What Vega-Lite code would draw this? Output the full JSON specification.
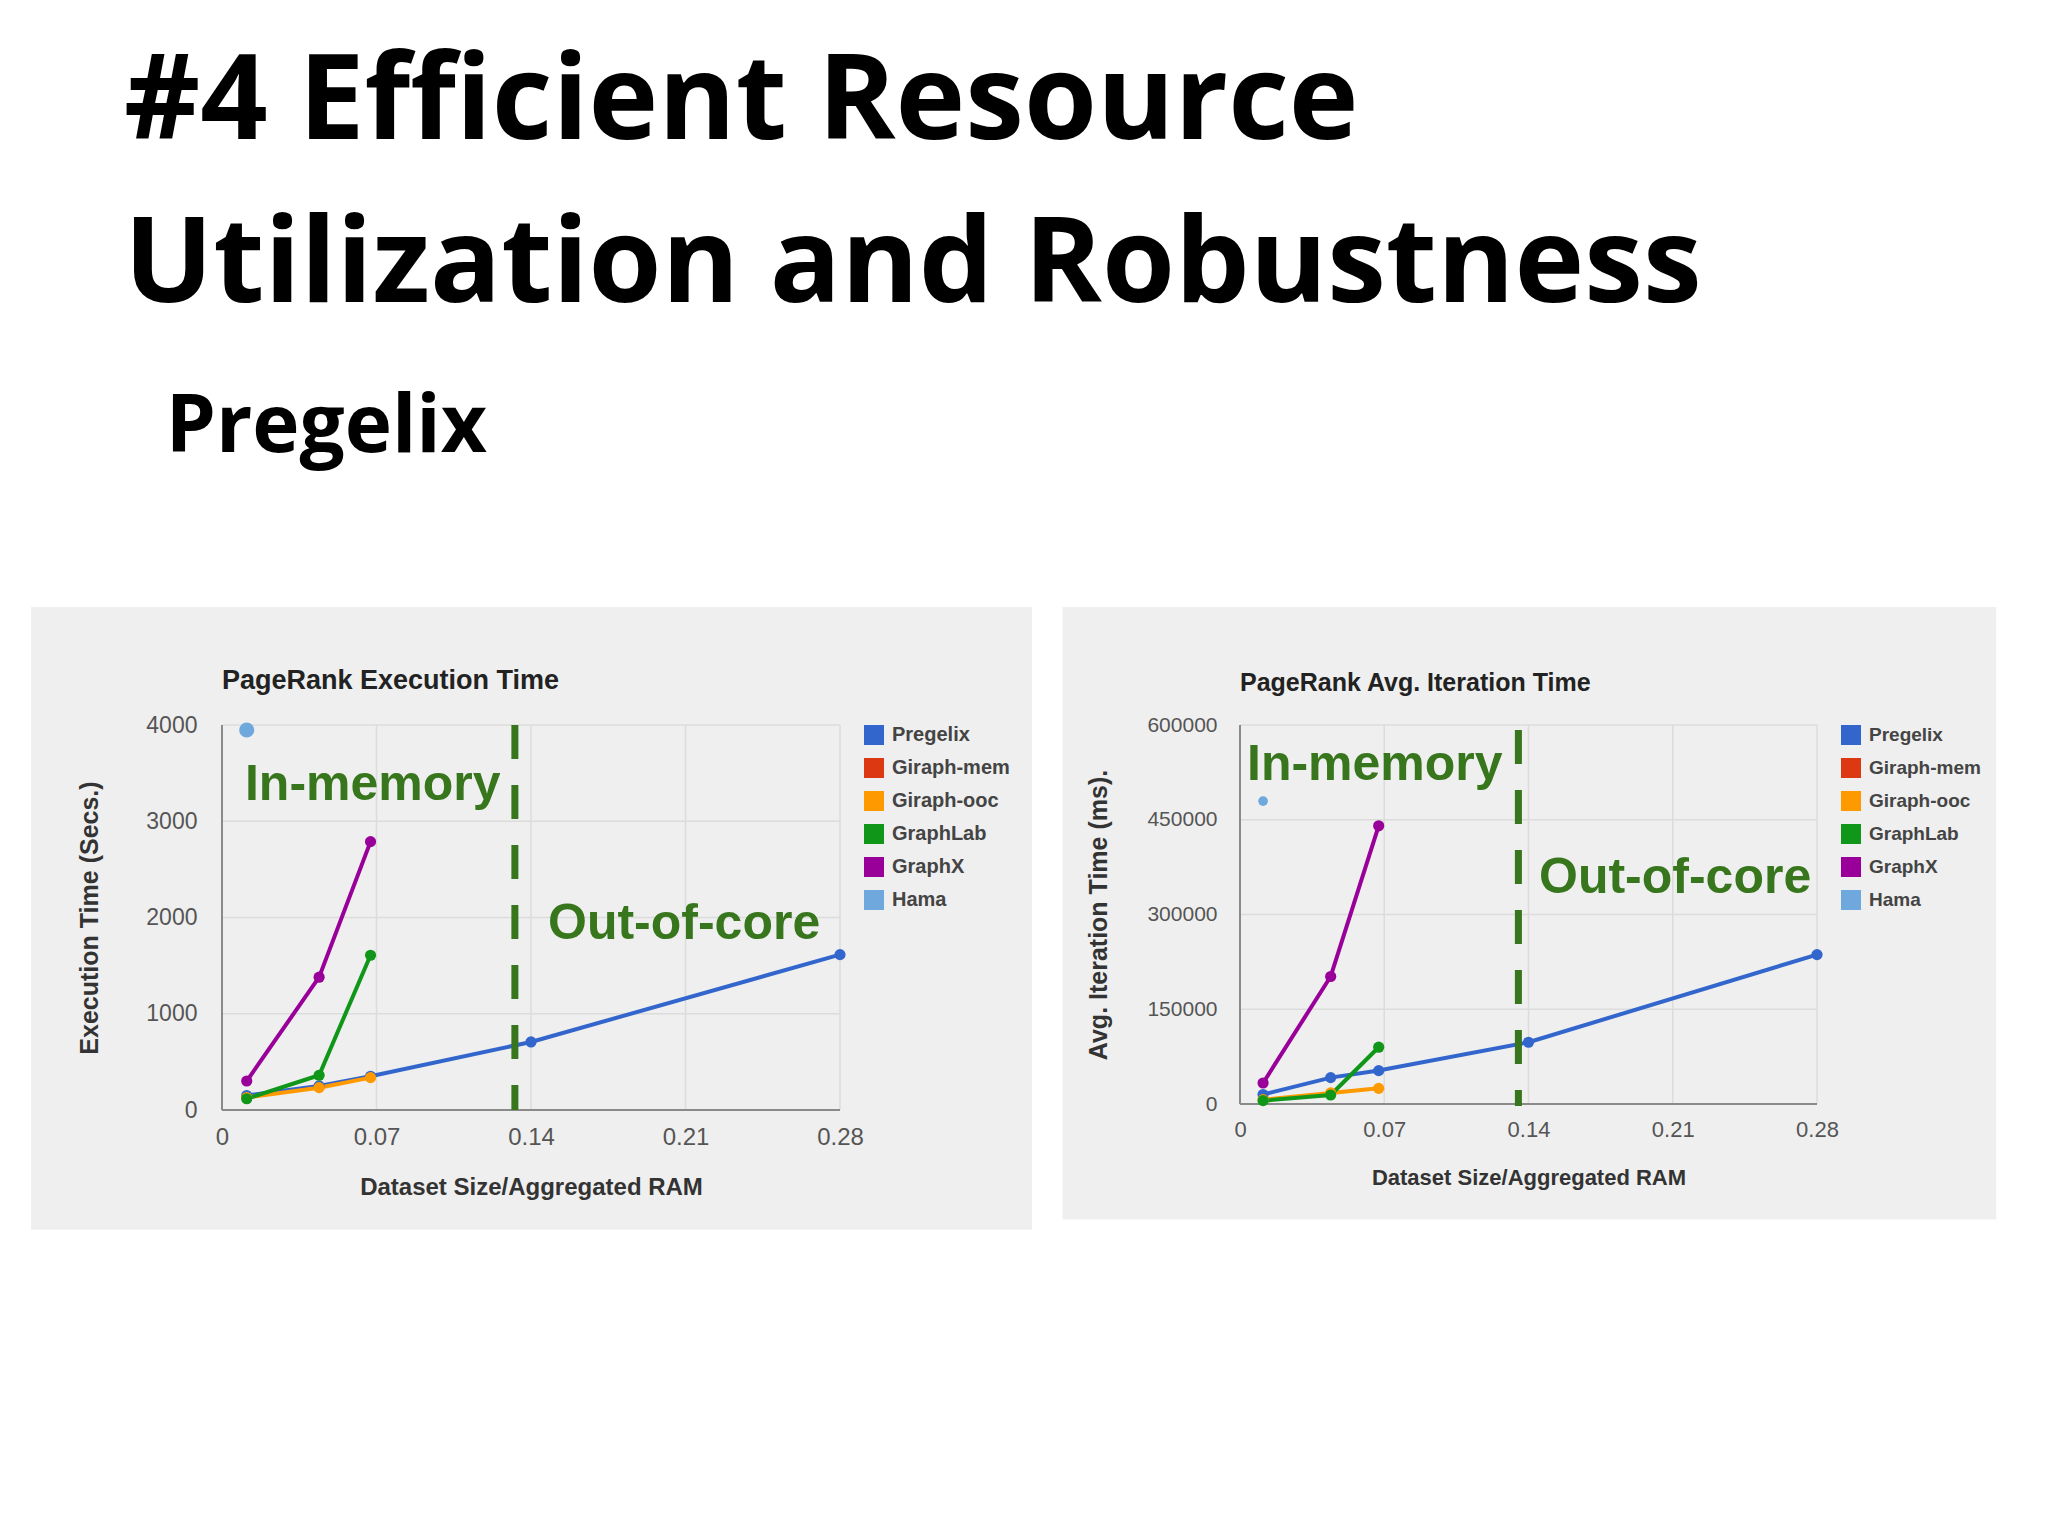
{
  "$schema": "https://vega.github.io/schema/vega-lite/v6.json",
  "background": "white",
  "padding": {"left": 31, "top": 44, "right": 0, "bottom": 0},
  "autosize": {"type": "pad"},
  "title": {
    "text": ["#4 Efficient Resource", "Utilization and Robustness"],
    "subtitle": "\u200b\u00a0\u00a0Pregelix",
    "anchor": "start",
    "dx": 93,
    "offset": 138,
    "font": "Open Sans",
    "fontSize": 118,
    "fontWeight": "bold",
    "color": "#000000",
    "lineHeight": 163,
    "subtitleFont": "Open Sans",
    "subtitleFontSize": 80,
    "subtitleFontWeight": "bold",
    "subtitleColor": "#000000",
    "subtitlePadding": 62
  },
  "spacing": 29,
  "resolve": {"scale": {"color": "independent"}, "legend": {"color": "independent"}},
  "datasets": {
    "exec": [
      {"system": "Pregelix", "x": 0.0112, "y": 150},
      {"system": "Pregelix", "x": 0.044, "y": 250},
      {"system": "Pregelix", "x": 0.0673, "y": 350},
      {"system": "Pregelix", "x": 0.14, "y": 707},
      {"system": "Pregelix", "x": 0.28, "y": 1614},
      {"system": "Giraph-ooc", "x": 0.0112, "y": 130},
      {"system": "Giraph-ooc", "x": 0.044, "y": 232},
      {"system": "Giraph-ooc", "x": 0.0673, "y": 336},
      {"system": "GraphLab", "x": 0.0112, "y": 117},
      {"system": "GraphLab", "x": 0.044, "y": 361},
      {"system": "GraphLab", "x": 0.0673, "y": 1608},
      {"system": "GraphX", "x": 0.0112, "y": 301},
      {"system": "GraphX", "x": 0.044, "y": 1380},
      {"system": "GraphX", "x": 0.0673, "y": 2788},
      {"system": "Hama", "x": 0.0112, "y": 3948}
    ],
    "iter": [
      {"system": "Pregelix", "x": 0.0112, "y": 15000},
      {"system": "Pregelix", "x": 0.044, "y": 41800},
      {"system": "Pregelix", "x": 0.0673, "y": 52900},
      {"system": "Pregelix", "x": 0.14, "y": 97800},
      {"system": "Pregelix", "x": 0.28, "y": 236500},
      {"system": "Giraph-ooc", "x": 0.0112, "y": 7000},
      {"system": "Giraph-ooc", "x": 0.044, "y": 17500},
      {"system": "Giraph-ooc", "x": 0.0673, "y": 24800},
      {"system": "GraphLab", "x": 0.0112, "y": 5300},
      {"system": "GraphLab", "x": 0.044, "y": 14300},
      {"system": "GraphLab", "x": 0.0673, "y": 89900},
      {"system": "GraphX", "x": 0.0112, "y": 33300},
      {"system": "GraphX", "x": 0.044, "y": 201900},
      {"system": "GraphX", "x": 0.0673, "y": 440400},
      {"system": "Hama", "x": 0.0112, "y": 479500}
    ],
    "execNotes": [
      {"label": "In-memory", "x": 0.0104, "y": 3218},
      {"label": "Out-of-core", "x": 0.1477, "y": 1780}
    ],
    "iterNotes": [
      {"label": "In-memory", "x": 0.0034, "y": 513300},
      {"label": "Out-of-core", "x": 0.1451, "y": 333300}
    ],
    "xTicks": [{"v": 0.07}, {"v": 0.14}, {"v": 0.21}, {"v": 0.28}],
    "execTicks": [{"v": 1000}, {"v": 2000}, {"v": 3000}, {"v": 4000}],
    "iterTicks": [{"v": 150000}, {"v": 300000}, {"v": 450000}, {"v": 600000}]
  },
  "config": {
    "view": {"stroke": null},
    "axis": {
      "labelFont": "Liberation Sans",
      "labelFontSize": 21,
      "labelColor": "#555555",
      "titleFont": "Liberation Sans",
      "titleFontSize": 22,
      "titleFontWeight": "bold",
      "titleColor": "#333333",
      "ticks": false
    },
    "axisX": {"labelPadding": 15, "titlePadding": 26},
    "axisY": {"labelPadding": 25, "titlePadding": 40},
    "legend": {
      "title": null,
      "symbolType": "square",
      "symbolSize": 400,
      "symbolStrokeWidth": 0,
      "symbolOpacity": 1,
      "labelFont": "Liberation Sans",
      "labelFontSize": 19,
      "labelFontWeight": "bold",
      "labelColor": "#444444",
      "labelOffset": 8,
      "rowPadding": 13,
      "offset": 16,
      "padding": 0
    }
  },
  "hconcat": [
    {
      "width": 618,
      "height": 385,
      "title": {
        "text": "PageRank Execution Time",
        "anchor": "start",
        "frame": "group",
        "offset": -109,
        "baseline": "alphabetic",
        "font": "Liberation Sans",
        "fontSize": 27,
        "fontWeight": "bold",
        "color": "#222222"
      },
      "layer": [
        {
          "data": {"values": [{}]},
          "mark": {"type": "rect", "color": "#efefef"},
          "encoding": {
            "x": {"datum": -0.0865, "type": "quantitative", "title": "Dataset Size/Aggregated RAM", "scale": {"domain": [0, 0.28], "nice": false, "zero": false},
              "axis": {"values": [0, 0.07, 0.14, 0.21, 0.28], "format": "~g", "grid": false, "domain": false, "zindex": 1, "labelFlush": false, "labelFontSize": 24, "titleFontSize": 24}},
            "x2": {"datum": 0.367},
            "y": {"datum": -1244, "type": "quantitative", "title": "Execution Time (Secs.)", "scale": {"domain": [0, 4000], "nice": false, "zero": false},
              "axis": {"values": [0, 1000, 2000, 3000, 4000], "format": "d", "grid": false, "domain": false, "zindex": 1, "labelFontSize": 23, "titleFontSize": 25, "titlePadding": 43}},
            "y2": {"datum": 5226}
          }
        },
        {
          "data": {"name": "xTicks"},
          "mark": {"type": "rule", "color": "#dcdcdc", "strokeWidth": 1.5},
          "encoding": {
            "x": {"field": "v", "type": "quantitative", "title": "Dataset Size/Aggregated RAM", "scale": {"domain": [0, 0.28], "nice": false, "zero": false},
              "axis": {"values": [0, 0.07, 0.14, 0.21, 0.28], "format": "~g", "grid": false, "domain": false, "zindex": 1, "labelFlush": false, "labelFontSize": 24, "titleFontSize": 24}},
            "y": {"datum": 0, "type": "quantitative", "title": "Execution Time (Secs.)", "scale": {"domain": [0, 4000], "nice": false, "zero": false},
              "axis": {"values": [0, 1000, 2000, 3000, 4000], "format": "d", "grid": false, "domain": false, "zindex": 1, "labelFontSize": 23, "titleFontSize": 25, "titlePadding": 43}},
            "y2": {"datum": 4000}
          }
        },
        {
          "data": {"name": "execTicks"},
          "mark": {"type": "rule", "color": "#dcdcdc", "strokeWidth": 1.5},
          "encoding": {
            "x": {"datum": 0, "type": "quantitative", "title": "Dataset Size/Aggregated RAM", "scale": {"domain": [0, 0.28], "nice": false, "zero": false},
              "axis": {"values": [0, 0.07, 0.14, 0.21, 0.28], "format": "~g", "grid": false, "domain": false, "zindex": 1, "labelFlush": false, "labelFontSize": 24, "titleFontSize": 24}},
            "x2": {"datum": 0.28},
            "y": {"field": "v", "type": "quantitative", "title": "Execution Time (Secs.)", "scale": {"domain": [0, 4000], "nice": false, "zero": false},
              "axis": {"values": [0, 1000, 2000, 3000, 4000], "format": "d", "grid": false, "domain": false, "zindex": 1, "labelFontSize": 23, "titleFontSize": 25, "titlePadding": 43}}
          }
        },
        {
          "data": {"values": [{}]},
          "mark": {"type": "rule", "color": "#8a8a8a", "strokeWidth": 2},
          "encoding": {
            "x": {"datum": 0, "type": "quantitative", "title": "Dataset Size/Aggregated RAM", "scale": {"domain": [0, 0.28], "nice": false, "zero": false},
              "axis": {"values": [0, 0.07, 0.14, 0.21, 0.28], "format": "~g", "grid": false, "domain": false, "zindex": 1, "labelFlush": false, "labelFontSize": 24, "titleFontSize": 24}},
            "x2": {"datum": 0.28},
            "y": {"datum": 0, "type": "quantitative", "title": "Execution Time (Secs.)", "scale": {"domain": [0, 4000], "nice": false, "zero": false},
              "axis": {"values": [0, 1000, 2000, 3000, 4000], "format": "d", "grid": false, "domain": false, "zindex": 1, "labelFontSize": 23, "titleFontSize": 25, "titlePadding": 43}}
          }
        },
        {
          "data": {"values": [{}]},
          "mark": {"type": "rule", "color": "#8a8a8a", "strokeWidth": 2},
          "encoding": {
            "x": {"datum": 0, "type": "quantitative", "title": "Dataset Size/Aggregated RAM", "scale": {"domain": [0, 0.28], "nice": false, "zero": false},
              "axis": {"values": [0, 0.07, 0.14, 0.21, 0.28], "format": "~g", "grid": false, "domain": false, "zindex": 1, "labelFlush": false, "labelFontSize": 24, "titleFontSize": 24}},
            "y": {"datum": 0, "type": "quantitative", "title": "Execution Time (Secs.)", "scale": {"domain": [0, 4000], "nice": false, "zero": false},
              "axis": {"values": [0, 1000, 2000, 3000, 4000], "format": "d", "grid": false, "domain": false, "zindex": 1, "labelFontSize": 23, "titleFontSize": 25, "titlePadding": 43}},
            "y2": {"datum": 4000}
          }
        },
        {
          "data": {"name": "exec"},
          "mark": {"type": "line", "strokeWidth": 4},
          "encoding": {
            "x": {"field": "x", "type": "quantitative", "title": "Dataset Size/Aggregated RAM", "scale": {"domain": [0, 0.28], "nice": false, "zero": false},
              "axis": {"values": [0, 0.07, 0.14, 0.21, 0.28], "format": "~g", "grid": false, "domain": false, "zindex": 1, "labelFlush": false, "labelFontSize": 24, "titleFontSize": 24}},
            "y": {"field": "y", "type": "quantitative", "title": "Execution Time (Secs.)", "scale": {"domain": [0, 4000], "nice": false, "zero": false},
              "axis": {"values": [0, 1000, 2000, 3000, 4000], "format": "d", "grid": false, "domain": false, "zindex": 1, "labelFontSize": 23, "titleFontSize": 25, "titlePadding": 43}},
            "color": {
              "field": "system",
              "type": "nominal",
              "scale": {
                "domain": ["Pregelix", "Giraph-mem", "Giraph-ooc", "GraphLab", "GraphX", "Hama"],
                "range": ["#3366cc", "#dc3912", "#ff9900", "#109618", "#990099", "#6fa8dc"]
              },
              "legend": {"labelFontSize": 20}
            }
          }
        },
        {
          "data": {"name": "exec"},
          "transform": [{"filter": "datum.system !== 'Hama'"}],
          "mark": {"type": "point", "filled": true, "size": 125, "opacity": 1},
          "encoding": {
            "x": {"field": "x", "type": "quantitative", "title": "Dataset Size/Aggregated RAM", "scale": {"domain": [0, 0.28], "nice": false, "zero": false},
              "axis": {"values": [0, 0.07, 0.14, 0.21, 0.28], "format": "~g", "grid": false, "domain": false, "zindex": 1, "labelFlush": false, "labelFontSize": 24, "titleFontSize": 24}},
            "y": {"field": "y", "type": "quantitative", "title": "Execution Time (Secs.)", "scale": {"domain": [0, 4000], "nice": false, "zero": false},
              "axis": {"values": [0, 1000, 2000, 3000, 4000], "format": "d", "grid": false, "domain": false, "zindex": 1, "labelFontSize": 23, "titleFontSize": 25, "titlePadding": 43}},
            "color": {"field": "system", "type": "nominal", "legend": {"labelFontSize": 20}}
          }
        },
        {
          "data": {"name": "exec"},
          "transform": [{"filter": "datum.system === 'Hama'"}],
          "mark": {"type": "point", "filled": true, "size": 230, "opacity": 1},
          "encoding": {
            "x": {"field": "x", "type": "quantitative", "title": "Dataset Size/Aggregated RAM", "scale": {"domain": [0, 0.28], "nice": false, "zero": false},
              "axis": {"values": [0, 0.07, 0.14, 0.21, 0.28], "format": "~g", "grid": false, "domain": false, "zindex": 1, "labelFlush": false, "labelFontSize": 24, "titleFontSize": 24}},
            "y": {"field": "y", "type": "quantitative", "title": "Execution Time (Secs.)", "scale": {"domain": [0, 4000], "nice": false, "zero": false},
              "axis": {"values": [0, 1000, 2000, 3000, 4000], "format": "d", "grid": false, "domain": false, "zindex": 1, "labelFontSize": 23, "titleFontSize": 25, "titlePadding": 43}},
            "color": {"field": "system", "type": "nominal", "legend": {"labelFontSize": 20}}
          }
        },
        {
          "data": {"values": [{}]},
          "mark": {"type": "rule", "color": "#38761d", "strokeWidth": 7, "strokeDash": [34, 26]},
          "encoding": {
            "x": {"datum": 0.1327, "type": "quantitative", "title": "Dataset Size/Aggregated RAM", "scale": {"domain": [0, 0.28], "nice": false, "zero": false},
              "axis": {"values": [0, 0.07, 0.14, 0.21, 0.28], "format": "~g", "grid": false, "domain": false, "zindex": 1, "labelFlush": false, "labelFontSize": 24, "titleFontSize": 24}},
            "y": {"datum": 4000, "type": "quantitative", "title": "Execution Time (Secs.)", "scale": {"domain": [0, 4000], "nice": false, "zero": false},
              "axis": {"values": [0, 1000, 2000, 3000, 4000], "format": "d", "grid": false, "domain": false, "zindex": 1, "labelFontSize": 23, "titleFontSize": 25, "titlePadding": 43}},
            "y2": {"datum": 0}
          }
        },
        {
          "data": {"name": "execNotes"},
          "mark": {"type": "text", "align": "left", "baseline": "alphabetic", "font": "Liberation Sans", "fontWeight": "bold", "fontSize": 50, "color": "#38761d"},
          "encoding": {
            "x": {"field": "x", "type": "quantitative", "title": "Dataset Size/Aggregated RAM", "scale": {"domain": [0, 0.28], "nice": false, "zero": false},
              "axis": {"values": [0, 0.07, 0.14, 0.21, 0.28], "format": "~g", "grid": false, "domain": false, "zindex": 1, "labelFlush": false, "labelFontSize": 24, "titleFontSize": 24}},
            "y": {"field": "y", "type": "quantitative", "title": "Execution Time (Secs.)", "scale": {"domain": [0, 4000], "nice": false, "zero": false},
              "axis": {"values": [0, 1000, 2000, 3000, 4000], "format": "d", "grid": false, "domain": false, "zindex": 1, "labelFontSize": 23, "titleFontSize": 25, "titlePadding": 43}},
            "text": {"field": "label"}
          }
        }
      ]
    },
    {
      "width": 577,
      "height": 379,
      "title": {
        "text": "PageRank Avg. Iteration Time",
        "anchor": "start",
        "frame": "group",
        "offset": -109,
        "baseline": "alphabetic",
        "font": "Liberation Sans",
        "fontSize": 25,
        "fontWeight": "bold",
        "color": "#222222"
      },
      "layer": [
        {
          "data": {"values": [{}]},
          "mark": {"type": "rect", "color": "#efefef"},
          "encoding": {
            "x": {"datum": -0.0861, "type": "quantitative", "title": "Dataset Size/Aggregated RAM", "scale": {"domain": [0, 0.28], "nice": false, "zero": false},
              "axis": {"values": [0, 0.07, 0.14, 0.21, 0.28], "format": "~g", "grid": false, "domain": false, "zindex": 1, "labelFlush": false, "labelFontSize": 22, "titlePadding": 27}},
            "x2": {"datum": 0.367},
            "y": {"datum": -183000, "type": "quantitative", "title": "Avg. Iteration Time (ms).", "scale": {"domain": [0, 600000], "nice": false, "zero": false},
              "axis": {"values": [0, 150000, 300000, 450000, 600000], "format": "d", "grid": false, "domain": false, "zindex": 1, "labelPadding": 23, "titleFontSize": 25, "titlePadding": 35}},
            "y2": {"datum": 787000}
          }
        },
        {
          "data": {"name": "xTicks"},
          "mark": {"type": "rule", "color": "#dcdcdc", "strokeWidth": 1.5},
          "encoding": {
            "x": {"field": "v", "type": "quantitative", "title": "Dataset Size/Aggregated RAM", "scale": {"domain": [0, 0.28], "nice": false, "zero": false},
              "axis": {"values": [0, 0.07, 0.14, 0.21, 0.28], "format": "~g", "grid": false, "domain": false, "zindex": 1, "labelFlush": false, "labelFontSize": 22, "titlePadding": 27}},
            "y": {"datum": 0, "type": "quantitative", "title": "Avg. Iteration Time (ms).", "scale": {"domain": [0, 600000], "nice": false, "zero": false},
              "axis": {"values": [0, 150000, 300000, 450000, 600000], "format": "d", "grid": false, "domain": false, "zindex": 1, "labelPadding": 23, "titleFontSize": 25, "titlePadding": 35}},
            "y2": {"datum": 600000}
          }
        },
        {
          "data": {"name": "iterTicks"},
          "mark": {"type": "rule", "color": "#dcdcdc", "strokeWidth": 1.5},
          "encoding": {
            "x": {"datum": 0, "type": "quantitative", "title": "Dataset Size/Aggregated RAM", "scale": {"domain": [0, 0.28], "nice": false, "zero": false},
              "axis": {"values": [0, 0.07, 0.14, 0.21, 0.28], "format": "~g", "grid": false, "domain": false, "zindex": 1, "labelFlush": false, "labelFontSize": 22, "titlePadding": 27}},
            "x2": {"datum": 0.28},
            "y": {"field": "v", "type": "quantitative", "title": "Avg. Iteration Time (ms).", "scale": {"domain": [0, 600000], "nice": false, "zero": false},
              "axis": {"values": [0, 150000, 300000, 450000, 600000], "format": "d", "grid": false, "domain": false, "zindex": 1, "labelPadding": 23, "titleFontSize": 25, "titlePadding": 35}}
          }
        },
        {
          "data": {"values": [{}]},
          "mark": {"type": "rule", "color": "#8a8a8a", "strokeWidth": 2},
          "encoding": {
            "x": {"datum": 0, "type": "quantitative", "title": "Dataset Size/Aggregated RAM", "scale": {"domain": [0, 0.28], "nice": false, "zero": false},
              "axis": {"values": [0, 0.07, 0.14, 0.21, 0.28], "format": "~g", "grid": false, "domain": false, "zindex": 1, "labelFlush": false, "labelFontSize": 22, "titlePadding": 27}},
            "x2": {"datum": 0.28},
            "y": {"datum": 0, "type": "quantitative", "title": "Avg. Iteration Time (ms).", "scale": {"domain": [0, 600000], "nice": false, "zero": false},
              "axis": {"values": [0, 150000, 300000, 450000, 600000], "format": "d", "grid": false, "domain": false, "zindex": 1, "labelPadding": 23, "titleFontSize": 25, "titlePadding": 35}}
          }
        },
        {
          "data": {"values": [{}]},
          "mark": {"type": "rule", "color": "#8a8a8a", "strokeWidth": 2},
          "encoding": {
            "x": {"datum": 0, "type": "quantitative", "title": "Dataset Size/Aggregated RAM", "scale": {"domain": [0, 0.28], "nice": false, "zero": false},
              "axis": {"values": [0, 0.07, 0.14, 0.21, 0.28], "format": "~g", "grid": false, "domain": false, "zindex": 1, "labelFlush": false, "labelFontSize": 22, "titlePadding": 27}},
            "y": {"datum": 0, "type": "quantitative", "title": "Avg. Iteration Time (ms).", "scale": {"domain": [0, 600000], "nice": false, "zero": false},
              "axis": {"values": [0, 150000, 300000, 450000, 600000], "format": "d", "grid": false, "domain": false, "zindex": 1, "labelPadding": 23, "titleFontSize": 25, "titlePadding": 35}},
            "y2": {"datum": 600000}
          }
        },
        {
          "data": {"name": "iter"},
          "mark": {"type": "line", "strokeWidth": 4},
          "encoding": {
            "x": {"field": "x", "type": "quantitative", "title": "Dataset Size/Aggregated RAM", "scale": {"domain": [0, 0.28], "nice": false, "zero": false},
              "axis": {"values": [0, 0.07, 0.14, 0.21, 0.28], "format": "~g", "grid": false, "domain": false, "zindex": 1, "labelFlush": false, "labelFontSize": 22, "titlePadding": 27}},
            "y": {"field": "y", "type": "quantitative", "title": "Avg. Iteration Time (ms).", "scale": {"domain": [0, 600000], "nice": false, "zero": false},
              "axis": {"values": [0, 150000, 300000, 450000, 600000], "format": "d", "grid": false, "domain": false, "zindex": 1, "labelPadding": 23, "titleFontSize": 25, "titlePadding": 35}},
            "color": {
              "field": "system",
              "type": "nominal",
              "scale": {
                "domain": ["Pregelix", "Giraph-mem", "Giraph-ooc", "GraphLab", "GraphX", "Hama"],
                "range": ["#3366cc", "#dc3912", "#ff9900", "#109618", "#990099", "#6fa8dc"]
              }
            }
          }
        },
        {
          "data": {"name": "iter"},
          "transform": [{"filter": "datum.system !== 'Hama'"}],
          "mark": {"type": "point", "filled": true, "size": 125, "opacity": 1},
          "encoding": {
            "x": {"field": "x", "type": "quantitative", "title": "Dataset Size/Aggregated RAM", "scale": {"domain": [0, 0.28], "nice": false, "zero": false},
              "axis": {"values": [0, 0.07, 0.14, 0.21, 0.28], "format": "~g", "grid": false, "domain": false, "zindex": 1, "labelFlush": false, "labelFontSize": 22, "titlePadding": 27}},
            "y": {"field": "y", "type": "quantitative", "title": "Avg. Iteration Time (ms).", "scale": {"domain": [0, 600000], "nice": false, "zero": false},
              "axis": {"values": [0, 150000, 300000, 450000, 600000], "format": "d", "grid": false, "domain": false, "zindex": 1, "labelPadding": 23, "titleFontSize": 25, "titlePadding": 35}},
            "color": {"field": "system", "type": "nominal"}
          }
        },
        {
          "data": {"name": "iter"},
          "transform": [{"filter": "datum.system === 'Hama'"}],
          "mark": {"type": "point", "filled": true, "size": 95, "opacity": 1},
          "encoding": {
            "x": {"field": "x", "type": "quantitative", "title": "Dataset Size/Aggregated RAM", "scale": {"domain": [0, 0.28], "nice": false, "zero": false},
              "axis": {"values": [0, 0.07, 0.14, 0.21, 0.28], "format": "~g", "grid": false, "domain": false, "zindex": 1, "labelFlush": false, "labelFontSize": 22, "titlePadding": 27}},
            "y": {"field": "y", "type": "quantitative", "title": "Avg. Iteration Time (ms).", "scale": {"domain": [0, 600000], "nice": false, "zero": false},
              "axis": {"values": [0, 150000, 300000, 450000, 600000], "format": "d", "grid": false, "domain": false, "zindex": 1, "labelPadding": 23, "titleFontSize": 25, "titlePadding": 35}},
            "color": {"field": "system", "type": "nominal"}
          }
        },
        {
          "data": {"values": [{}]},
          "mark": {"type": "rule", "color": "#38761d", "strokeWidth": 7, "strokeDash": [34, 26]},
          "encoding": {
            "x": {"datum": 0.1351, "type": "quantitative", "title": "Dataset Size/Aggregated RAM", "scale": {"domain": [0, 0.28], "nice": false, "zero": false},
              "axis": {"values": [0, 0.07, 0.14, 0.21, 0.28], "format": "~g", "grid": false, "domain": false, "zindex": 1, "labelFlush": false, "labelFontSize": 22, "titlePadding": 27}},
            "y": {"datum": 592000, "type": "quantitative", "title": "Avg. Iteration Time (ms).", "scale": {"domain": [0, 600000], "nice": false, "zero": false},
              "axis": {"values": [0, 150000, 300000, 450000, 600000], "format": "d", "grid": false, "domain": false, "zindex": 1, "labelPadding": 23, "titleFontSize": 25, "titlePadding": 35}},
            "y2": {"datum": -3000}
          }
        },
        {
          "data": {"name": "iterNotes"},
          "mark": {"type": "text", "align": "left", "baseline": "alphabetic", "font": "Liberation Sans", "fontWeight": "bold", "fontSize": 50, "color": "#38761d"},
          "encoding": {
            "x": {"field": "x", "type": "quantitative", "title": "Dataset Size/Aggregated RAM", "scale": {"domain": [0, 0.28], "nice": false, "zero": false},
              "axis": {"values": [0, 0.07, 0.14, 0.21, 0.28], "format": "~g", "grid": false, "domain": false, "zindex": 1, "labelFlush": false, "labelFontSize": 22, "titlePadding": 27}},
            "y": {"field": "y", "type": "quantitative", "title": "Avg. Iteration Time (ms).", "scale": {"domain": [0, 600000], "nice": false, "zero": false},
              "axis": {"values": [0, 150000, 300000, 450000, 600000], "format": "d", "grid": false, "domain": false, "zindex": 1, "labelPadding": 23, "titleFontSize": 25, "titlePadding": 35}},
            "text": {"field": "label"}
          }
        }
      ]
    }
  ]
}
